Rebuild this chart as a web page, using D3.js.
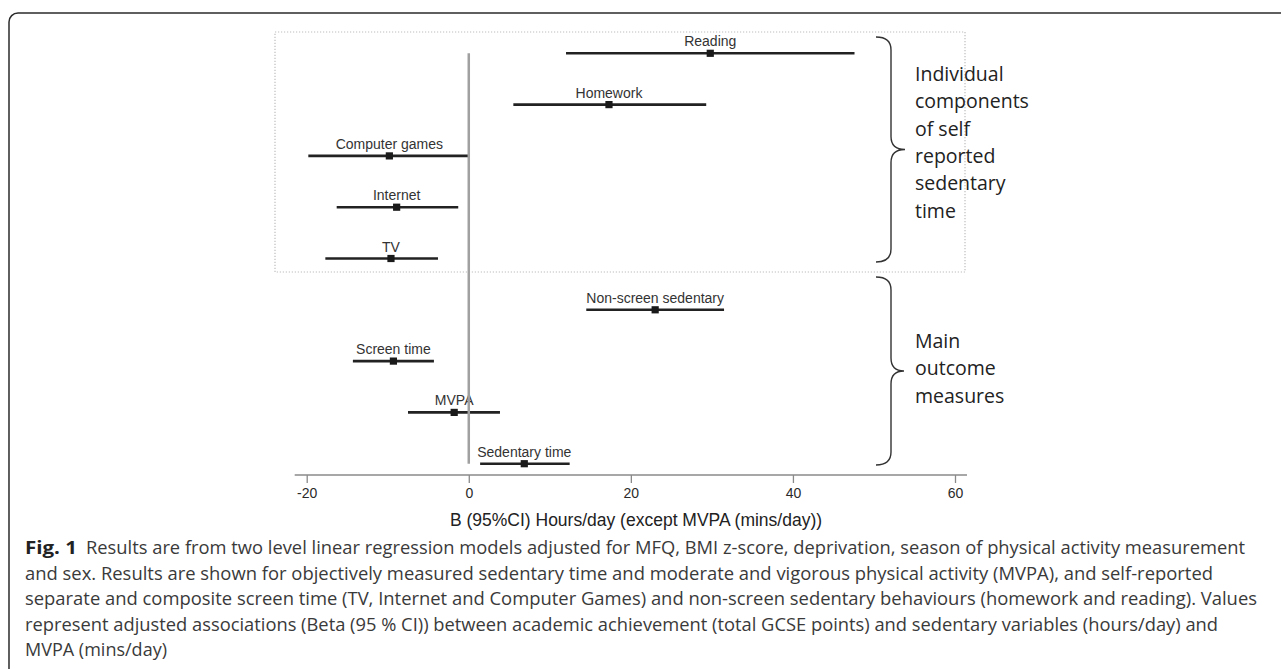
<!DOCTYPE html>
<html>
<head>
<meta charset="UTF-8">
<title>Fig. 1</title>
<style>
  body { margin: 0; background: #fff; }
</style>
</head>
<body>
<div id="svg"></div>
<script src="https://d3js.org/d3.v7.min.js"></script>
<script>
// estimates, top row first
var categories = ['Reading', 'Homework', 'Computer games', 'Internet', 'TV',
                  'Non-screen sedentary', 'Screen time', 'MVPA', 'Sedentary time'];
var estimate = [29.8, 17.3, -9.8, -8.9, -9.6, 23.0, -9.3, -1.8, 6.85];
var lower    = [12.0, 5.5, -19.8, -16.3, -17.7, 14.5, -14.3, -7.5, 1.4];
var upper    = [47.6, 29.3, 0.0, -1.3, -3.8, 31.5, -4.3, 3.85, 12.45];
var tickValues = [-20, 0, 20, 40, 60];

var captionLines = [
  'Results are from two level linear regression models adjusted for MFQ, BMI z-score, deprivation, season of physical activity measurement',
  'and sex. Results are shown for objectively measured sedentary time and moderate and vigorous physical activity (MVPA), and self-reported',
  'separate and composite screen time (TV, Internet and Computer Games) and non-screen sedentary behaviours (homework and reading). Values',
  'represent adjusted associations (Beta (95 % CI)) between academic achievement (total GCSE points) and sedentary variables (hours/day) and',
  'MVPA (mins/day)'
];

window.onload = function() {
    var width = 1281,
        height = 669;

    var svg = d3.select('#svg')
        .append('svg')
        .attr('width', width)
        .attr('height', height);

    // outer frame of the figure
    svg.append('rect')
        .attr('x', 9).attr('y', 13)
        .attr('width', 1300).attr('height', 700)
        .attr('rx', 9)
        .attr('fill', 'none')
        .attr('stroke', '#2b2b2b')
        .attr('stroke-width', 1.5);

    var x = d3.scaleLinear().domain([-20, 60]).range([306.7, 955]);
    var y = d3.scalePoint().domain(categories).range([53.3, 463.7]);

    var rows = categories.map(function(c, i) {
        return { name: c, est: estimate[i], lo: lower[i], hi: upper[i] };
    });

    // dotted box round the self-reported components
    svg.append('rect')
        .attr('x', 275).attr('y', 32)
        .attr('width', 690).attr('height', 240)
        .attr('fill', 'none')
        .attr('stroke', '#bdbdbd')
        .attr('stroke-width', 1.2)
        .attr('stroke-dasharray', '1.2,1.8');

    // x axis
    var axisY = 475;
    var gx = svg.append('g')
        .attr('transform', 'translate(0,' + axisY + ')')
        .call(d3.axisBottom(x)
            .tickValues(tickValues)
            .tickFormat(function(d) { return String(d); })
            .tickSize(8).tickSizeOuter(0).tickPadding(5));
    gx.select('.domain').remove();
    gx.append('line')
        .attr('x1', x.range()[0] - 12).attr('x2', x.range()[1] + 12)
        .attr('stroke', '#8a8a8a').attr('stroke-width', 1.5);
    gx.selectAll('.tick line').attr('stroke', '#8a8a8a').attr('stroke-width', 1.3);
    gx.selectAll('.tick text')
        .attr('fill', '#2a2a2a')
        .style('font-family', '"Liberation Sans", Arial, sans-serif')
        .style('font-size', '14px');

    svg.append('text')
        .attr('x', 636).attr('y', 526)
        .attr('text-anchor', 'middle')
        .attr('fill', '#222')
        .style('font-family', '"Liberation Sans", Arial, sans-serif')
        .style('font-size', '17.5px')
        .text('B (95%CI) Hours/day (except MVPA (mins/day))');

    var row = svg.append('g').selectAll('g')
        .data(rows)
        .join('g');

    row.append('text')
        .attr('x', function(d) { return x(d.est); })
        .attr('y', function(d) { return y(d.name) - 7; })
        .attr('text-anchor', 'middle')
        .attr('fill', '#333')
        .style('font-family', '"Liberation Sans", Arial, sans-serif')
        .style('font-size', '14px')
        .text(function(d) { return d.name; });

    // reference line at zero
    svg.append('line')
        .attr('x1', x(0)).attr('x2', x(0))
        .attr('y1', y.range()[0]).attr('y2', y.range()[1])
        .attr('stroke', '#a0a0a0')
        .attr('stroke-width', 2.5);

    row.append('line')
        .attr('x1', function(d) { return x(d.lo); })
        .attr('x2', function(d) { return x(d.hi); })
        .attr('y1', function(d) { return y(d.name); })
        .attr('y2', function(d) { return y(d.name); })
        .attr('stroke', '#222')
        .attr('stroke-width', 2.6);

    row.append('rect')
        .attr('x', function(d) { return x(d.est) - 3.6; })
        .attr('y', function(d) { return y(d.name) - 3.6; })
        .attr('width', 7.2).attr('height', 7.2)
        .attr('fill', '#1a1a1a');

    // curly braces on the right
    function brace(top, bottom, xl, xv, xt) {
        var mid = (top + bottom) / 2, r = 13;
        return 'M' + xl + ',' + top +
            ' Q' + xv + ',' + top + ' ' + xv + ',' + (top + r) +
            ' L' + xv + ',' + (mid - r) +
            ' Q' + xv + ',' + mid + ' ' + xt + ',' + mid +
            ' Q' + xv + ',' + mid + ' ' + xv + ',' + (mid + r) +
            ' L' + xv + ',' + (bottom - r) +
            ' Q' + xv + ',' + bottom + ' ' + xl + ',' + bottom;
    }
    svg.append('path')
        .attr('d', brace(37, 262, 876, 891, 905))
        .attr('fill', 'none').attr('stroke', '#333').attr('stroke-width', 1.4);
    svg.append('path')
        .attr('d', brace(277, 465, 876, 891, 904))
        .attr('fill', 'none').attr('stroke', '#333').attr('stroke-width', 1.4);

    function block(lines, y0) {
        svg.append('text')
            .attr('x', 915).attr('y', y0)
            .attr('fill', '#222')
            .style('font-family', '"Open Sans", sans-serif')
            .style('font-size', '19.5px')
            .selectAll('tspan')
            .data(lines)
            .join('tspan')
            .attr('x', 915)
            .attr('dy', function(d, i) { return i ? 27.3 : 0; })
            .text(function(d) { return d; });
    }
    block(['Individual', 'components', 'of self', 'reported', 'sedentary', 'time'], 81);
    block(['Main', 'outcome', 'measures'], 348);

    // caption
    var capFont = '"Open Sans", sans-serif';
    svg.append('text')
        .attr('x', 25).attr('y', 554)
        .attr('fill', '#222')
        .attr('textLength', 52).attr('lengthAdjust', 'spacingAndGlyphs')
        .style('font-family', capFont)
        .style('font-size', '17.5px')
        .style('font-weight', 'bold')
        .text('Fig. 1');

    var capStart = [86, 25, 25, 25, 25];
    var capEnd = [1245, 1213, 1257, 1218, 167];
    svg.append('g').selectAll('text')
        .data(captionLines)
        .join('text')
        .attr('x', function(d, i) { return capStart[i]; })
        .attr('y', function(d, i) { return 554 + i * 25.6; })
        .attr('textLength', function(d, i) { return capEnd[i] - capStart[i]; })
        .attr('lengthAdjust', 'spacingAndGlyphs')
        .attr('fill', '#3a3a3a')
        .style('font-family', capFont)
        .style('font-size', '17.5px')
        .text(function(d) { return d; });
};
</script>
</body>
</html>
